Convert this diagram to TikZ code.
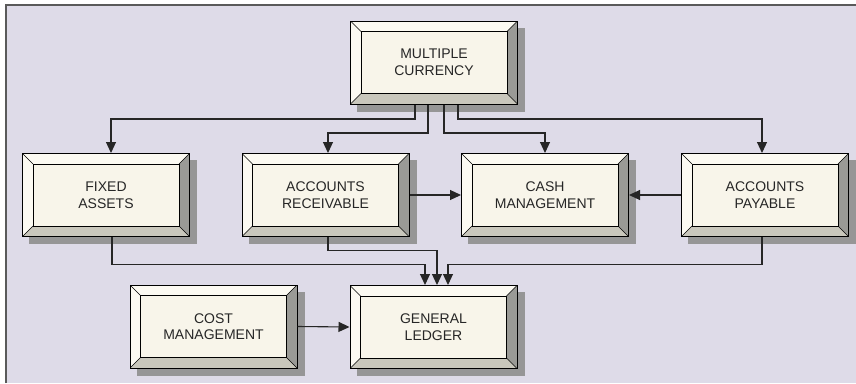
\documentclass[tikz,border=0pt]{standalone}
\usepackage{fontspec}
\setmainfont{Liberation Sans}
\usepackage{xcolor}
\usetikzlibrary{arrows.meta,backgrounds}

\definecolor{panel}{HTML}{DEDBE8}
\definecolor{panelrule}{HTML}{5A5A5A}
\definecolor{boxface}{HTML}{F8F5EA}
\definecolor{bevellight}{HTML}{FCFAF2}
\definecolor{beveldark}{HTML}{9A9A96}
\definecolor{bevelmid}{HTML}{C9C7BC}
\definecolor{boxshadow}{HTML}{969696}

\begin{document}
\begin{tikzpicture}[x=1pt, y=-1pt,
  module/.style={rectangle, draw=black, line width=1pt, fill=boxface, minimum width=167pt, minimum height=83pt, inner sep=0pt, align=center, text=black!85, font=\fontsize{14}{16.5}\selectfont,
    path picture={
      \coordinate (bnw) at (path picture bounding box.north west);
      \coordinate (bne) at (path picture bounding box.north east);
      \coordinate (bsw) at (path picture bounding box.south west);
      \coordinate (bse) at (path picture bounding box.south east);
      \coordinate (inw) at ([shift={(10.5pt,-10.5pt)}]bnw);
      \coordinate (ine) at ([shift={(-10.5pt,-10.5pt)}]bne);
      \coordinate (isw) at ([shift={(10.5pt,10.5pt)}]bsw);
      \coordinate (ise) at ([shift={(-10.5pt,10.5pt)}]bse);
      \fill[bevellight] (bnw) -- (bne) -- (ine) -- (inw) -- cycle;
      \fill[bevellight] (bnw) -- (inw) -- (isw) -- (bsw) -- cycle;
      \fill[beveldark] (bne) -- (bse) -- (ise) -- (ine) -- cycle;
      \fill[bevelmid] (bsw) -- (isw) -- (ise) -- (bse) -- cycle;
      \draw[line width=0.8pt] (inw) rectangle (ise);
      \draw[line width=0.6pt] (bnw) -- (inw) (bne) -- (ine) (bsw) -- (isw) (bse) -- (ise);
    }},
  link/.style={draw=black!85, line width=1.1pt, -{Triangle[width=10pt,length=11pt]}}]

  \useasboundingbox (0,0) rectangle (856,383);

  % modules
  \node[module] (mc) at (434,62.5) {MULTIPLE\\CURRENCY};
  \node[module] (fa) at (106,195) {FIXED\\ASSETS};
  \node[module] (ar) at (325.5,195) {ACCOUNTS\\RECEIVABLE};
  \node[module] (cm) at (545,195) {CASH\\MANAGEMENT};
  \node[module] (ap) at (765,195) {ACCOUNTS\\PAYABLE};
  \node[module] (cost) at (213.5,326.5) {COST\\MANAGEMENT};
  \node[module] (gl) at (433.5,327) {GENERAL\\LEDGER};

  % panel and shadows go underneath
  \begin{pgfonlayer}{background}
    \fill[white] (0,0) rectangle (856,383);
    \fill[panel] (6,5) rectangle (856,383);
    \draw[panelrule, line width=2pt] (6,383) -- (6,5) -- (856,5);
    \foreach \m in {mc,fa,ar,cm,ap,cost,gl}
      \fill[boxshadow] ([shift={(7pt,-7pt)}]\m.north west) rectangle ([shift={(7pt,-7pt)}]\m.south east);
  \end{pgfonlayer}

  % links
  \draw[link] ([xshift=-19pt]mc.south) -- ++(0,14.5) -| ([xshift=5pt]fa.north);
  \draw[link] ([xshift=-6pt]mc.south) -- ++(0,28.5) -| ([xshift=2.5pt]ar.north);
  \draw[link] ([xshift=10pt]mc.south) -- ++(0,28.5) -| (cm.north);
  \draw[link] ([xshift=24pt]mc.south) -- ++(0,14.5) -| ([xshift=-3pt]ap.north);
  \draw[link] (ar.east) -- (cm.west);
  \draw[link] (ap.west) -- (cm.east);
  \draw[link] ([xshift=6pt]fa.south) -- ++(0,27.5) -| ([xshift=-8.5pt]gl.north);
  \draw[link] ([xshift=2.5pt]ar.south) -- ++(0,13.5) -| ([xshift=3.5pt]gl.north);
  \draw[link] ([xshift=-3pt]ap.south) -- ++(0,27.5) -| ([xshift=14.5pt]gl.north);
  \draw[link] (cost.east) -- (gl.west);
\end{tikzpicture}
\end{document}
